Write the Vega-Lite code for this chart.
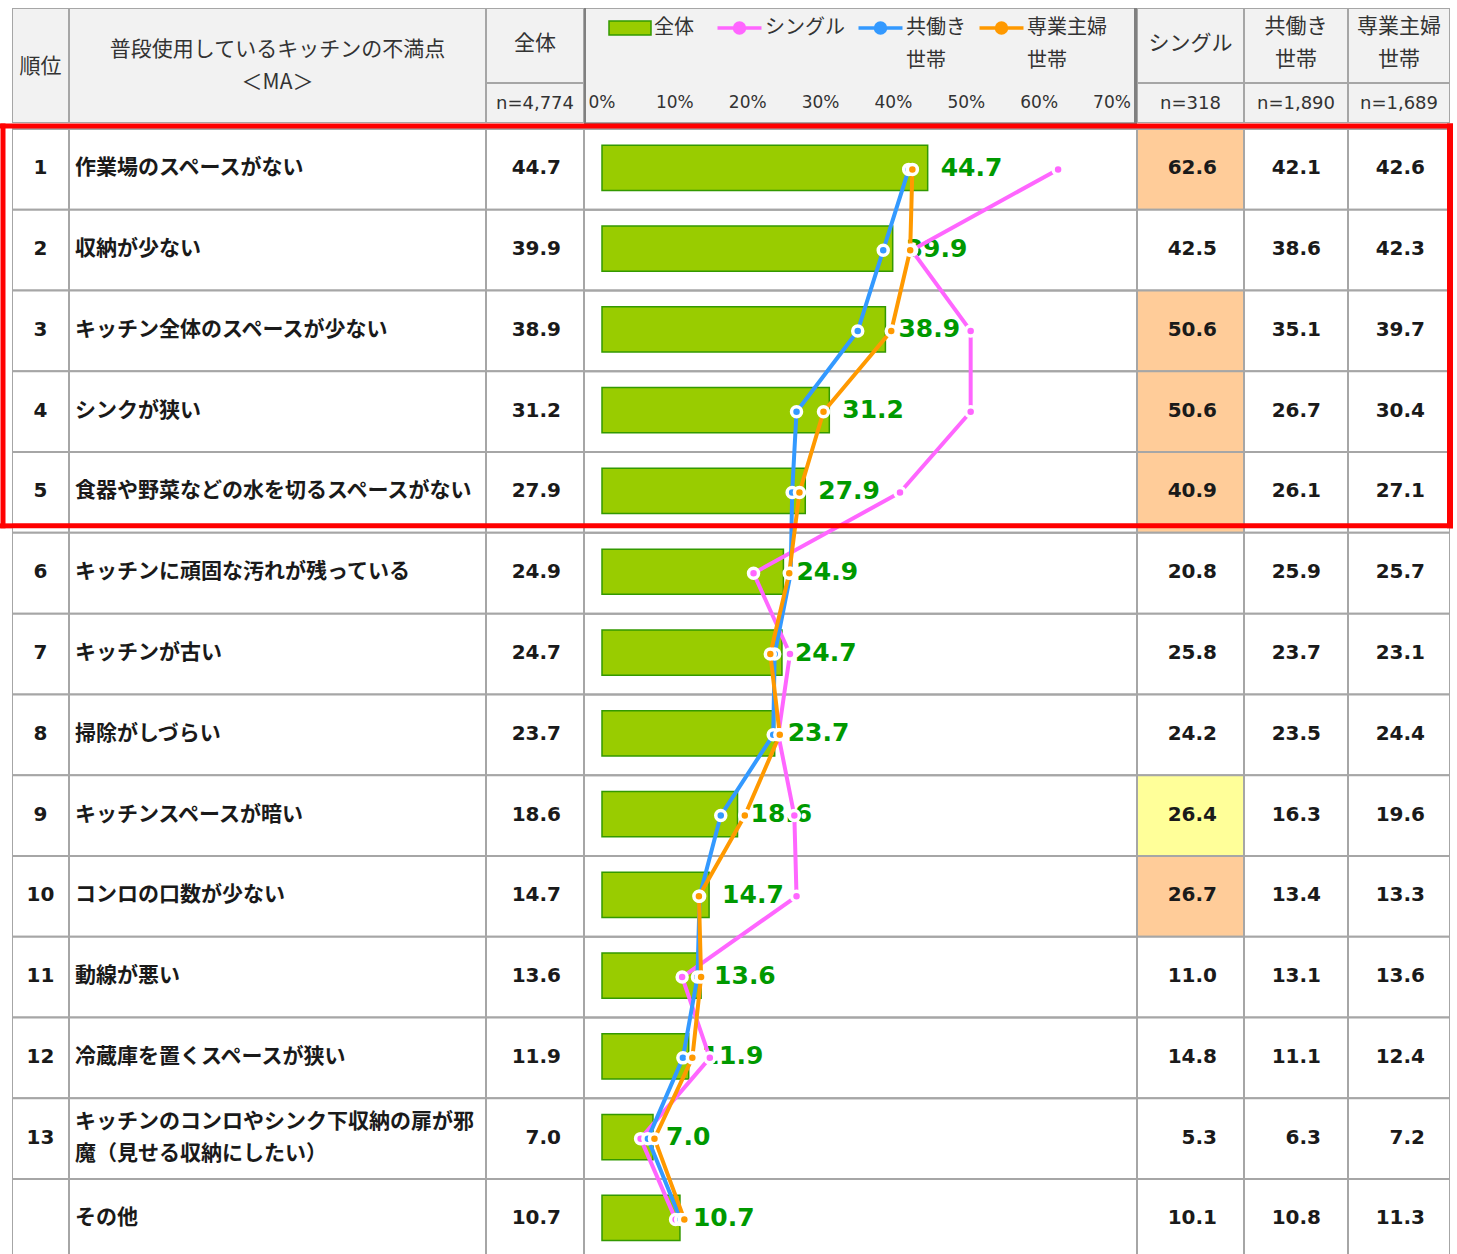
{
  "$schema": "https://vega.github.io/schema/vega-lite/v6.json",
  "padding": {"left": 0, "top": 8, "right": 0, "bottom": 0},
  "background": "white",
  "config": {"view": {"stroke": null}},
  "data": {"values": [
    {"id": 1, "rank": "1", "item": "作業場のスペースがない", "全体": 44.7, "シングル": 62.6, "共働き世帯": 42.1, "専業主婦世帯": 42.6},
    {"id": 2, "rank": "2", "item": "収納が少ない", "全体": 39.9, "シングル": 42.5, "共働き世帯": 38.6, "専業主婦世帯": 42.3},
    {"id": 3, "rank": "3", "item": "キッチン全体のスペースが少ない", "全体": 38.9, "シングル": 50.6, "共働き世帯": 35.1, "専業主婦世帯": 39.7},
    {"id": 4, "rank": "4", "item": "シンクが狭い", "全体": 31.2, "シングル": 50.6, "共働き世帯": 26.7, "専業主婦世帯": 30.4},
    {"id": 5, "rank": "5", "item": "食器や野菜などの水を切るスペースがない", "全体": 27.9, "シングル": 40.9, "共働き世帯": 26.1, "専業主婦世帯": 27.1},
    {"id": 6, "rank": "6", "item": "キッチンに頑固な汚れが残っている", "全体": 24.9, "シングル": 20.8, "共働き世帯": 25.9, "専業主婦世帯": 25.7},
    {"id": 7, "rank": "7", "item": "キッチンが古い", "全体": 24.7, "シングル": 25.8, "共働き世帯": 23.7, "専業主婦世帯": 23.1},
    {"id": 8, "rank": "8", "item": "掃除がしづらい", "全体": 23.7, "シングル": 24.2, "共働き世帯": 23.5, "専業主婦世帯": 24.4},
    {"id": 9, "rank": "9", "item": "キッチンスペースが暗い", "全体": 18.6, "シングル": 26.4, "共働き世帯": 16.3, "専業主婦世帯": 19.6},
    {"id": 10, "rank": "10", "item": "コンロの口数が少ない", "全体": 14.7, "シングル": 26.7, "共働き世帯": 13.4, "専業主婦世帯": 13.3},
    {"id": 11, "rank": "11", "item": "動線が悪い", "全体": 13.6, "シングル": 11.0, "共働き世帯": 13.1, "専業主婦世帯": 13.6},
    {"id": 12, "rank": "12", "item": "冷蔵庫を置くスペースが狭い", "全体": 11.9, "シングル": 14.8, "共働き世帯": 11.1, "専業主婦世帯": 12.4},
    {"id": 13, "rank": "13", "item": "キッチンのコンロやシンク下収納の扉が邪\n魔（見せる収納にしたい）", "全体": 7.0, "シングル": 5.3, "共働き世帯": 6.3, "専業主婦世帯": 7.2},
    {"id": 14, "rank": "", "item": "その他", "全体": 10.7, "シングル": 10.1, "共働き世帯": 10.8, "専業主婦世帯": 11.3}
  ]},
  "spacing": 0,
  "vconcat": [
    {
      "spacing": 0,
      "hconcat": [
        {"width": 12, "height": 115, "data": {"values": [{}]}, "mark": {"type": "text", "text": ""}},
        {"width": 57, "height": 115, "data": {"values": [{}]}, "layer": [
          {"mark": {"type": "rect", "fill": "#F2F2F2", "stroke": "#A6A6A6", "strokeWidth": 2, "clip": true}},
          {"mark": {"type": "text", "text": "順位", "font": "Noto Sans CJK JP", "fontSize": 21, "fill": "#333333", "align": "center", "baseline": "middle", "dy": 1.5}}
        ]},
        {"width": 417, "height": 115, "data": {"values": [{}]}, "layer": [
          {"mark": {"type": "rect", "fill": "#F2F2F2", "stroke": "#A6A6A6", "strokeWidth": 2, "clip": true}},
          {"mark": {"type": "text", "text": ["普段使用しているキッチンの不満点", "＜MA＞"], "lineHeight": 33, "font": "Noto Sans CJK JP", "fontSize": 21, "fill": "#333333", "align": "center", "baseline": "middle", "dy": -15.5}}
        ]},
        {"spacing": 0, "vconcat": [
          {"width": 98, "height": 75, "data": {"values": [{}]}, "layer": [
            {"mark": {"type": "rect", "fill": "#F2F2F2", "stroke": "#A6A6A6", "strokeWidth": 2, "clip": true}},
            {"mark": {"type": "text", "text": "全体", "font": "Noto Sans CJK JP", "fontSize": 21, "fill": "#333333", "align": "center", "baseline": "middle", "dy": -1.5}}
          ]},
          {"width": 98, "height": 40, "data": {"values": [{}]}, "layer": [
            {"mark": {"type": "rect", "fill": "#F2F2F2", "stroke": "#A6A6A6", "strokeWidth": 2, "clip": true}},
            {"mark": {"type": "text", "text": "n=4,774", "font": "DejaVu Sans", "fontSize": 18, "fill": "#333333", "align": "center", "baseline": "middle", "dy": 1}}
          ]}
        ]},
        {"width": 553, "height": 115, "layer": [
          {"data": {"values": [{}]}, "mark": {"type": "rect", "fill": "#F2F2F2", "stroke": "#A6A6A6", "strokeWidth": 2, "clip": true},
           "encoding": {"x": {"datum": -2.4706, "type": "quantitative", "axis": null, "scale": {"domain": [-2.4706, 73.431], "nice": false, "zero": false}},
                        "x2": {"datum": 73.431}}},
          {"data": {"values": [{"tick": 0, "label": "0%"}, {"tick": 10, "label": "10%"}, {"tick": 20, "label": "20%"}, {"tick": 30, "label": "30%"}, {"tick": 40, "label": "40%"}, {"tick": 50, "label": "50%"}, {"tick": 60, "label": "60%"}, {"tick": 70, "label": "70%"}]},
           "mark": {"type": "text", "font": "DejaVu Sans", "fontSize": 17, "fill": "#333333", "align": "center", "baseline": "middle", "y": "height", "dy": -20},
           "encoding": {"x": {"field": "tick", "type": "quantitative", "axis": null}, "text": {"field": "label", "type": "nominal"}}},
          {"data": {"values": [{}]}, "mark": {"type": "rule", "stroke": "#808080", "strokeWidth": 4, "clip": true}, "encoding": {"x": {"datum": -2.4706, "type": "quantitative", "axis": null}}},
          {"data": {"values": [{}]}, "mark": {"type": "rule", "stroke": "#808080", "strokeWidth": 6, "clip": true}, "encoding": {"x": {"datum": 73.431, "type": "quantitative", "axis": null}}}
        ]},
        {"spacing": 0, "vconcat": [
          {"spacing": 0, "hconcat": [
            {"width": 107, "height": 75, "data": {"values": [{}]}, "layer": [
              {"mark": {"type": "rect", "fill": "#F2F2F2", "stroke": "#A6A6A6", "strokeWidth": 2, "clip": true}},
              {"mark": {"type": "text", "text": "シングル", "font": "Noto Sans CJK JP", "fontSize": 21, "fill": "#333333", "align": "center", "baseline": "middle", "dy": -1.5}}
            ]},
            {"width": 104, "height": 75, "data": {"values": [{}]}, "layer": [
              {"mark": {"type": "rect", "fill": "#F2F2F2", "stroke": "#A6A6A6", "strokeWidth": 2, "clip": true}},
              {"mark": {"type": "text", "text": ["共働き", "世帯"], "lineHeight": 33, "font": "Noto Sans CJK JP", "fontSize": 21, "fill": "#333333", "align": "center", "baseline": "middle", "dy": -18.5}}
            ]},
            {"width": 102, "height": 75, "data": {"values": [{}]}, "layer": [
              {"mark": {"type": "rect", "fill": "#F2F2F2", "stroke": "#A6A6A6", "strokeWidth": 2, "clip": true}},
              {"mark": {"type": "text", "text": ["専業主婦", "世帯"], "lineHeight": 33, "font": "Noto Sans CJK JP", "fontSize": 21, "fill": "#333333", "align": "center", "baseline": "middle", "dy": -18.5}}
            ]}
          ]},
          {"spacing": 0, "hconcat": [
            {"width": 107, "height": 40, "data": {"values": [{}]}, "layer": [
              {"mark": {"type": "rect", "fill": "#F2F2F2", "stroke": "#A6A6A6", "strokeWidth": 2, "clip": true}},
              {"mark": {"type": "text", "text": "n=318", "font": "DejaVu Sans", "fontSize": 18, "fill": "#333333", "align": "center", "baseline": "middle", "dy": 1}}
            ]},
            {"width": 104, "height": 40, "data": {"values": [{}]}, "layer": [
              {"mark": {"type": "rect", "fill": "#F2F2F2", "stroke": "#A6A6A6", "strokeWidth": 2, "clip": true}},
              {"mark": {"type": "text", "text": "n=1,890", "font": "DejaVu Sans", "fontSize": 18, "fill": "#333333", "align": "center", "baseline": "middle", "dy": 1}}
            ]},
            {"width": 102, "height": 40, "data": {"values": [{}]}, "layer": [
              {"mark": {"type": "rect", "fill": "#F2F2F2", "stroke": "#A6A6A6", "strokeWidth": 2, "clip": true}},
              {"mark": {"type": "text", "text": "n=1,689", "font": "DejaVu Sans", "fontSize": 18, "fill": "#333333", "align": "center", "baseline": "middle", "dy": 1}}
            ]}
          ]}
        ]}
      ]
    },
    {
      "spacing": 0,
      "hconcat": [
        {"width": 6, "height": 1131, "layer": [
          {"data": {"values": [{}]}, "mark": {"type": "rule", "stroke": "#FF0000", "strokeWidth": 5, "yOffset": -3, "clip": true}, "encoding": {"y": {"datum": 1, "type": "ordinal", "bandPosition": 0, "axis": null, "scale": {"type": "band", "domain": [1,2,3,4,5,6,7,8,9,10,11,12,13,14], "range": [6, 1136.8], "paddingInner": 0, "paddingOuter": 0}}}},
          {"data": {"values": [{}]}, "mark": {"type": "rule", "stroke": "#FF0000", "strokeWidth": 5, "yOffset": -7, "clip": true}, "encoding": {"y": {"datum": 5, "type": "ordinal", "bandPosition": 1, "axis": null}}},
          {"data": {"values": [{}]}, "mark": {"type": "rule", "stroke": "#FF0000", "strokeWidth": 5, "yOffset": -5.5, "y2Offset": -4.5, "clip": true}, "encoding": {"y": {"datum": 1, "type": "ordinal", "bandPosition": 0, "axis": null}, "y2": {"datum": 5, "bandPosition": 1}}}
        ]},
        {"width": 6, "height": 1131, "layer": [
          {"data": {"values": [{}]}, "mark": {"type": "rule", "stroke": "#FF0000", "strokeWidth": 5, "yOffset": -3, "clip": true}, "encoding": {"y": {"datum": 1, "type": "ordinal", "bandPosition": 0, "axis": null, "scale": {"type": "band", "domain": [1,2,3,4,5,6,7,8,9,10,11,12,13,14], "range": [6, 1136.8], "paddingInner": 0, "paddingOuter": 0}}}},
          {"data": {"values": [{}]}, "mark": {"type": "rule", "stroke": "#FF0000", "strokeWidth": 5, "yOffset": -7, "clip": true}, "encoding": {"y": {"datum": 5, "type": "ordinal", "bandPosition": 1, "axis": null}}}
        ]},
        {"width": 57, "height": 1131, "encoding": {"y": {"field": "id", "type": "ordinal", "axis": null, "scale": {"type": "band", "domain": [1,2,3,4,5,6,7,8,9,10,11,12,13,14], "range": [6, 1136.8], "paddingInner": 0, "paddingOuter": 0}}},
         "layer": [
          {"mark": {"type": "rect", "fill": "white", "stroke": "#A6A6A6", "strokeWidth": 2, "clip": true}},
          {"mark": {"type": "text", "font": "DejaVu Sans", "fontWeight": "bold", "fontSize": 20, "fill": "#1A1A1A", "align": "center", "baseline": "middle", "dy": -1}, "encoding": {"text": {"field": "rank", "type": "nominal"}}},
          {"data": {"values": [{}]}, "mark": {"type": "rule", "stroke": "#FF0000", "strokeWidth": 5, "yOffset": -3, "clip": true}, "encoding": {"y": {"datum": 1, "type": "ordinal", "bandPosition": 0, "axis": null}}},
          {"data": {"values": [{}]}, "mark": {"type": "rule", "stroke": "#FF0000", "strokeWidth": 5, "yOffset": -7, "clip": true}, "encoding": {"y": {"datum": 5, "type": "ordinal", "bandPosition": 1, "axis": null}}}
        ]},
        {"width": 417, "height": 1131, "encoding": {"y": {"field": "id", "type": "ordinal", "axis": null, "scale": {"type": "band", "domain": [1,2,3,4,5,6,7,8,9,10,11,12,13,14], "range": [6, 1136.8], "paddingInner": 0, "paddingOuter": 0}}},
         "layer": [
          {"mark": {"type": "rect", "fill": "white", "stroke": "#A6A6A6", "strokeWidth": 2, "clip": true}},
          {"transform": [{"filter": "indexof(datum.item, '\\n') < 0"}],
           "mark": {"type": "text", "font": "Noto Sans CJK JP", "fontWeight": "bold", "fontSize": 21, "fill": "#1A1A1A", "align": "left", "baseline": "middle", "x": 0, "dx": 6, "dy": -1}, "encoding": {"text": {"field": "item", "type": "nominal"}}},
          {"transform": [{"filter": "indexof(datum.item, '\\n') >= 0"}],
           "mark": {"type": "text", "font": "Noto Sans CJK JP", "fontWeight": "bold", "fontSize": 21, "fill": "#1A1A1A", "align": "left", "baseline": "middle", "x": 0, "dx": 6, "dy": -17, "lineBreak": "\n", "lineHeight": 32}, "encoding": {"text": {"field": "item", "type": "nominal"}}},
          {"data": {"values": [{}]}, "mark": {"type": "rule", "stroke": "#FF0000", "strokeWidth": 5, "yOffset": -3, "clip": true}, "encoding": {"y": {"datum": 1, "type": "ordinal", "bandPosition": 0, "axis": null}}},
          {"data": {"values": [{}]}, "mark": {"type": "rule", "stroke": "#FF0000", "strokeWidth": 5, "yOffset": -7, "clip": true}, "encoding": {"y": {"datum": 5, "type": "ordinal", "bandPosition": 1, "axis": null}}}
        ]},
        {"width": 98, "height": 1131, "encoding": {"y": {"field": "id", "type": "ordinal", "axis": null, "scale": {"type": "band", "domain": [1,2,3,4,5,6,7,8,9,10,11,12,13,14], "range": [6, 1136.8], "paddingInner": 0, "paddingOuter": 0}}},
         "layer": [
          {"mark": {"type": "rect", "fill": "white", "stroke": "#A6A6A6", "strokeWidth": 2, "clip": true}},
          {"mark": {"type": "text", "font": "DejaVu Sans", "fontWeight": "bold", "fontSize": 20, "fill": "#1A1A1A", "align": "right", "baseline": "middle", "x": "width", "dx": -23, "dy": -1}, "encoding": {"text": {"field": "全体", "type": "quantitative", "format": ".1f"}}},
          {"data": {"values": [{}]}, "mark": {"type": "rule", "stroke": "#FF0000", "strokeWidth": 5, "yOffset": -3, "clip": true}, "encoding": {"y": {"datum": 1, "type": "ordinal", "bandPosition": 0, "axis": null}}},
          {"data": {"values": [{}]}, "mark": {"type": "rule", "stroke": "#FF0000", "strokeWidth": 5, "yOffset": -7, "clip": true}, "encoding": {"y": {"datum": 5, "type": "ordinal", "bandPosition": 1, "axis": null}}}
        ]},
        {"width": 553, "height": 1131, "encoding": {"y": {"field": "id", "type": "ordinal", "axis": null, "scale": {"type": "band", "domain": [1,2,3,4,5,6,7,8,9,10,11,12,13,14], "range": [6, 1136.8], "paddingInner": 0, "paddingOuter": 0}}},
         "layer": [
          {"mark": {"type": "rect", "fill": "transparent", "stroke": "#A6A6A6", "strokeWidth": 2, "clip": true},
           "encoding": {"x": {"datum": -2.4706, "type": "quantitative", "axis": null, "scale": {"domain": [-2.4706, 73.431], "nice": false, "zero": false}}, "x2": {"datum": 73.431}}},
          {"mark": {"type": "bar", "stroke": "#339900", "strokeWidth": 1.5, "height": {"band": 0.56}, "yOffset": -1.5},
           "encoding": {
             "x": {"field": "全体", "type": "quantitative", "axis": {"orient": "top", "grid": true, "values": [0, 10, 20, 30, 40, 50, 60], "gridDash": [3, 3], "gridColor": "#8C8C8C", "gridWidth": 1, "labels": false, "ticks": false, "domain": false, "title": null}},
             "x2": {"datum": 0},
             "fill": {"datum": "全体", "type": "nominal", "scale": {"domain": ["全体"], "range": ["#99CC00"]},
               "legend": {"orient": "none", "legendX": 620, "legendY": 10, "title": null, "padding": 0, "direction": "horizontal",
                 "symbolType": "M-4.2,-1.4H4.2V1.4H-4.2Z", "symbolSize": 100, "symbolStrokeColor": "#339900", "symbolStrokeWidth": 1.5,
                 "labelFont": "Noto Sans CJK JP", "labelFontSize": 20, "labelColor": "#333333", "labelOffset": 14, "labelBaseline": "middle", "labelLimit": 0,
                 "labelExpr": "['全体', '']",
                 "encode": {"symbols": {"update": {"fill": {"value": "#99CC00"}, "stroke": {"value": "#339900"}, "strokeWidth": {"value": 1.5}}},
                            "labels": {"update": {"lineHeight": {"value": 33}}}}}}
           }},
          {"data": {"values": [{}]}, "mark": {"type": "rule", "stroke": "#808080", "strokeWidth": 1.5, "clip": true}, "encoding": {"x": {"datum": 70, "type": "quantitative", "axis": null}}},
          {"mark": {"type": "text", "font": "DejaVu Sans", "fontWeight": "bold", "fontSize": 25, "fill": "#009900", "align": "left", "baseline": "middle", "dx": 13, "dy": -1.5},
           "encoding": {"x": {"field": "全体", "type": "quantitative", "axis": null}, "text": {"field": "全体", "type": "quantitative", "format": ".1f"}}},
          {"transform": [{"fold": ["シングル", "共働き世帯", "専業主婦世帯"], "as": ["series", "pct"]}],
           "encoding": {
             "x": {"field": "pct", "type": "quantitative", "axis": null},
             "color": {"field": "series", "type": "nominal", "scale": {"domain": ["シングル", "共働き世帯", "専業主婦世帯"], "range": ["#FF66FF", "#3399FF", "#FF9900"]},
               "legend": {"orient": "none", "legendX": 729.5, "legendY": 10, "title": null, "padding": 0, "direction": "horizontal", "columnPadding": 6,
                 "symbolType": "M-4.4,0H4.4M1,0A1,1,0,1,1,-1,0A1,1,0,1,1,1,0Z", "symbolSize": 100, "symbolStrokeWidth": 3.5,
                 "labelFont": "Noto Sans CJK JP", "labelFontSize": 20, "labelColor": "#333333", "labelOffset": 15.5, "labelBaseline": "middle", "labelLimit": 0,
                 "labelExpr": "datum.label == 'シングル' ? ['シングル', ''] : [slice(datum.label, 0, length(datum.label) - 2), '世帯']",
                 "encode": {"symbols": {"update": {"fill": {"scale": "color", "field": "value"}, "stroke": {"scale": "color", "field": "value"}, "strokeWidth": {"value": 3.5}, "opacity": {"value": 1}}},
                            "labels": {"update": {"lineHeight": {"value": 33}}}}}},
             "order": {"field": "id", "type": "quantitative"}
           },
           "layer": [
             {"mark": {"type": "line", "strokeWidth": 4, "strokeJoin": "round"}},
             {"mark": {"type": "point", "filled": true, "size": 100, "stroke": "white", "strokeWidth": 3.5, "opacity": 1, "fillOpacity": 1, "strokeOpacity": 1}}
           ]},
          {"data": {"values": [{}]}, "mark": {"type": "rule", "stroke": "#808080", "strokeWidth": 4, "clip": true}, "encoding": {"x": {"datum": -2.4706, "type": "quantitative", "axis": null}}},
          {"data": {"values": [{}]}, "mark": {"type": "rule", "stroke": "#808080", "strokeWidth": 6, "clip": true}, "encoding": {"x": {"datum": 73.431, "type": "quantitative", "axis": null}}},
          {"data": {"values": [{}]}, "mark": {"type": "rule", "stroke": "#FF0000", "strokeWidth": 5, "yOffset": -3, "clip": true}, "encoding": {"y": {"datum": 1, "type": "ordinal", "bandPosition": 0, "axis": null}}},
          {"data": {"values": [{}]}, "mark": {"type": "rule", "stroke": "#FF0000", "strokeWidth": 5, "yOffset": -7, "clip": true}, "encoding": {"y": {"datum": 5, "type": "ordinal", "bandPosition": 1, "axis": null}}}
        ]},
        {"width": 107, "height": 1131, "encoding": {"y": {"field": "id", "type": "ordinal", "axis": null, "scale": {"type": "band", "domain": [1,2,3,4,5,6,7,8,9,10,11,12,13,14], "range": [6, 1136.8], "paddingInner": 0, "paddingOuter": 0}}},
         "layer": [
          {"mark": {"type": "rect", "stroke": "#A6A6A6", "strokeWidth": 2, "clip": true},
           "encoding": {"fill": {"condition": [{"test": "datum['シングル'] - datum['全体'] >= 10", "value": "#FFCC99"}, {"test": "datum['シングル'] - datum['全体'] >= 5", "value": "#FFFF99"}], "value": "white"}}},
          {"mark": {"type": "text", "font": "DejaVu Sans", "fontWeight": "bold", "fontSize": 20, "fill": "#1A1A1A", "align": "right", "baseline": "middle", "x": "width", "dx": -27, "dy": -1}, "encoding": {"text": {"field": "シングル", "type": "quantitative", "format": ".1f"}}},
          {"data": {"values": [{}]}, "mark": {"type": "rule", "stroke": "#FF0000", "strokeWidth": 5, "yOffset": -3, "clip": true}, "encoding": {"y": {"datum": 1, "type": "ordinal", "bandPosition": 0, "axis": null}}},
          {"data": {"values": [{}]}, "mark": {"type": "rule", "stroke": "#FF0000", "strokeWidth": 5, "yOffset": -7, "clip": true}, "encoding": {"y": {"datum": 5, "type": "ordinal", "bandPosition": 1, "axis": null}}}
        ]},
        {"width": 104, "height": 1131, "encoding": {"y": {"field": "id", "type": "ordinal", "axis": null, "scale": {"type": "band", "domain": [1,2,3,4,5,6,7,8,9,10,11,12,13,14], "range": [6, 1136.8], "paddingInner": 0, "paddingOuter": 0}}},
         "layer": [
          {"mark": {"type": "rect", "stroke": "#A6A6A6", "strokeWidth": 2, "clip": true},
           "encoding": {"fill": {"condition": [{"test": "datum['共働き世帯'] - datum['全体'] >= 10", "value": "#FFCC99"}, {"test": "datum['共働き世帯'] - datum['全体'] >= 5", "value": "#FFFF99"}], "value": "white"}}},
          {"mark": {"type": "text", "font": "DejaVu Sans", "fontWeight": "bold", "fontSize": 20, "fill": "#1A1A1A", "align": "right", "baseline": "middle", "x": "width", "dx": -27, "dy": -1}, "encoding": {"text": {"field": "共働き世帯", "type": "quantitative", "format": ".1f"}}},
          {"data": {"values": [{}]}, "mark": {"type": "rule", "stroke": "#FF0000", "strokeWidth": 5, "yOffset": -3, "clip": true}, "encoding": {"y": {"datum": 1, "type": "ordinal", "bandPosition": 0, "axis": null}}},
          {"data": {"values": [{}]}, "mark": {"type": "rule", "stroke": "#FF0000", "strokeWidth": 5, "yOffset": -7, "clip": true}, "encoding": {"y": {"datum": 5, "type": "ordinal", "bandPosition": 1, "axis": null}}}
        ]},
        {"width": 102, "height": 1131, "encoding": {"y": {"field": "id", "type": "ordinal", "axis": null, "scale": {"type": "band", "domain": [1,2,3,4,5,6,7,8,9,10,11,12,13,14], "range": [6, 1136.8], "paddingInner": 0, "paddingOuter": 0}}},
         "layer": [
          {"mark": {"type": "rect", "stroke": "#A6A6A6", "strokeWidth": 2, "clip": true},
           "encoding": {"fill": {"condition": [{"test": "datum['専業主婦世帯'] - datum['全体'] >= 10", "value": "#FFCC99"}, {"test": "datum['専業主婦世帯'] - datum['全体'] >= 5", "value": "#FFFF99"}], "value": "white"}}},
          {"mark": {"type": "text", "font": "DejaVu Sans", "fontWeight": "bold", "fontSize": 20, "fill": "#1A1A1A", "align": "right", "baseline": "middle", "x": "width", "dx": -25, "dy": -1}, "encoding": {"text": {"field": "専業主婦世帯", "type": "quantitative", "format": ".1f"}}},
          {"data": {"values": [{}]}, "mark": {"type": "rule", "stroke": "#FF0000", "strokeWidth": 5, "yOffset": -3, "clip": true}, "encoding": {"y": {"datum": 1, "type": "ordinal", "bandPosition": 0, "axis": null}}},
          {"data": {"values": [{}]}, "mark": {"type": "rule", "stroke": "#FF0000", "strokeWidth": 5, "yOffset": -7, "clip": true}, "encoding": {"y": {"datum": 5, "type": "ordinal", "bandPosition": 1, "axis": null}}},
          {"data": {"values": [{}]}, "mark": {"type": "rule", "stroke": "#FF0000", "strokeWidth": 6, "x": "width", "yOffset": -5.5, "y2Offset": -4.5, "clip": true}, "encoding": {"y": {"datum": 1, "type": "ordinal", "bandPosition": 0, "axis": null}, "y2": {"datum": 5, "bandPosition": 1}}}
        ]},
        {"width": 3, "height": 1131, "layer": [
          {"data": {"values": [{}]}, "mark": {"type": "rule", "stroke": "#FF0000", "strokeWidth": 5, "yOffset": -3, "clip": true}, "encoding": {"y": {"datum": 1, "type": "ordinal", "bandPosition": 0, "axis": null, "scale": {"type": "band", "domain": [1,2,3,4,5,6,7,8,9,10,11,12,13,14], "range": [6, 1136.8], "paddingInner": 0, "paddingOuter": 0}}}},
          {"data": {"values": [{}]}, "mark": {"type": "rule", "stroke": "#FF0000", "strokeWidth": 5, "yOffset": -7, "clip": true}, "encoding": {"y": {"datum": 5, "type": "ordinal", "bandPosition": 1, "axis": null}}},
          {"data": {"values": [{}]}, "mark": {"type": "rule", "stroke": "#FF0000", "strokeWidth": 3, "yOffset": -5.5, "y2Offset": -4.5, "clip": true}, "encoding": {"y": {"datum": 1, "type": "ordinal", "bandPosition": 0, "axis": null}, "y2": {"datum": 5, "bandPosition": 1}}}
        ]}
      ]
    }
  ]
}
